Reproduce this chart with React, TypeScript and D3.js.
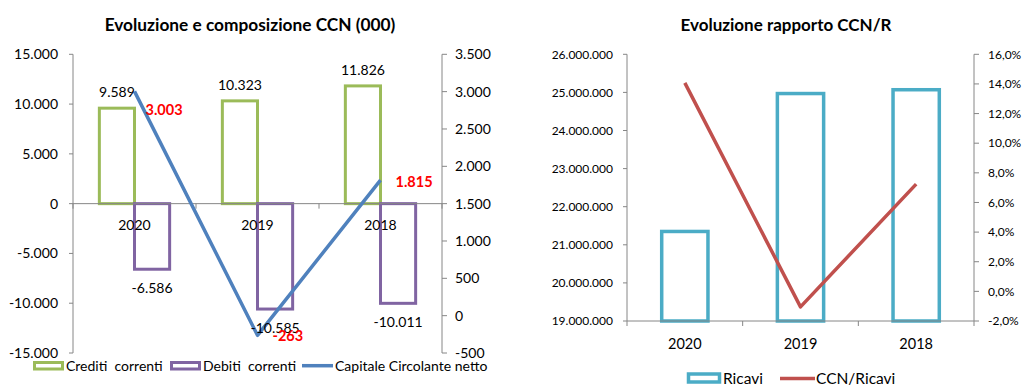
import React from "react";
import * as d3 from "d3";

// Categories and series
const years = ["2020", "2019", "2018"];
const creditiCorrenti = [9589, 10323, 11826];
const debitiCorrenti = [-6586, -10585, -10011];
const capitaleCircolanteNetto = [3003, -263, 1815];
const ricavi = [21350000, 24970000, 25070000];
const ccnSuRicavi = [0.1407, -0.0105, 0.0724];

// Axis ticks
const ccnLeftTicks = [15000, 10000, 5000, 0, -5000, -10000, -15000];
const ccnRightTicks = [3500, 3000, 2500, 2000, 1500, 1000, 500, 0, -500];
const ricaviTicks = [26000000, 25000000, 24000000, 23000000, 22000000, 21000000, 20000000, 19000000];
const ratioTicks = [0.16, 0.14, 0.12, 0.1, 0.08, 0.06, 0.04, 0.02, 0, -0.02];

const it = d3.formatLocale({
  decimal: ",",
  thousands: ".",
  grouping: [3],
  currency: ["€", ""],
  minus: "-",
});
const fmtInt = it.format(",d");
const fmtPct = it.format(".1%");

const FONT = "Lato, 'Open Sans', sans-serif";
const GREEN = "#9BBB59";
const PURPLE = "#8064A2";
const BLUE = "#4F81BD";
const CYAN = "#4BACC6";
const RED = "#C0504D";
const AXIS = "#868686";
const LABEL_RED = "#FF0000";

// nudges for the red CCN labels (dx, dy) so they clear the line
const ccnLabelNudge = [
  [11, 19],
  [15, 1],
  [15, 2],
];

function LeftChart() {
  const left = 73;
  const right = 442;
  const top = 54.3;
  const bottom = 353;
  const x = d3.scaleBand().domain(years).range([left, right]).paddingInner(0).paddingOuter(0);
  const yL = d3.scaleLinear().domain([-15000, 15000]).range([bottom, top]);
  const yR = d3.scaleLinear().domain([-500, 3500]).range([bottom, top]);
  const barW = x.bandwidth() / 3.5;
  const zero = yL(0);
  const center = (c: string) => (x(c) as number) + x.bandwidth() / 2;
  const line = d3
    .line<number>()
    .x((_, i) => center(years[i]))
    .y((d) => yR(d));

  return (
    <g fontFamily={FONT}>
      <text x={250} y={31} textAnchor="middle" fontSize={17.3} fontWeight="bold" fill="#000">
        Evoluzione e composizione CCN (000)
      </text>

      {/* left axis */}
      <line x1={left} x2={left} y1={top} y2={bottom} stroke={AXIS} strokeWidth={1} />
      {ccnLeftTicks.map((t) => (
        <g key={"lt" + t}>
          <line x1={left - 4} x2={left} y1={yL(t)} y2={yL(t)} stroke={AXIS} />
          <text x={58} y={yL(t)} dy="0.35em" textAnchor="end" fontSize={14} fill="#000">
            {fmtInt(t)}
          </text>
        </g>
      ))}

      {/* right axis */}
      <line x1={right} x2={right} y1={top} y2={bottom} stroke={AXIS} strokeWidth={1} />
      {ccnRightTicks.map((t) => (
        <g key={"rt" + t}>
          <line x1={right} x2={right + 5} y1={yR(t)} y2={yR(t)} stroke={AXIS} />
          <text x={455} y={yR(t)} dy="0.35em" textAnchor="start" fontSize={14} fill="#000">
            {fmtInt(t)}
          </text>
        </g>
      ))}

      {/* bars */}
      {years.map((c, i) => {
        const cx = center(c);
        const gTop = yL(creditiCorrenti[i]);
        const pBot = yL(debitiCorrenti[i]);
        return (
          <g key={"bars" + c}>
            <rect x={cx - barW} y={gTop} width={barW} height={zero - gTop} fill="none" stroke={GREEN} strokeWidth={3} />
            <rect x={cx} y={zero} width={barW} height={pBot - zero} fill="none" stroke={PURPLE} strokeWidth={3} />
          </g>
        );
      })}

      {/* category axis at zero */}
      <line x1={left} x2={right} y1={zero} y2={zero} stroke={AXIS} strokeWidth={1} />
      {[0, 1, 2, 3].map((k) => {
        const xx = left + k * x.bandwidth();
        return <line key={"ct" + k} x1={xx} x2={xx} y1={zero} y2={zero + 5} stroke={AXIS} />;
      })}
      {years.map((c) => (
        <text key={"cl" + c} x={center(c)} y={230} textAnchor="middle" fontSize={14} fill="#000">
          {c}
        </text>
      ))}

      {/* line */}
      <path d={line(capitaleCircolanteNetto) || ""} fill="none" stroke={BLUE} strokeWidth={3.5} strokeLinejoin="round" />

      {/* bar labels */}
      {years.map((c, i) => {
        const cx = center(c);
        return (
          <g key={"bl" + c} fontSize={14} fill="#000">
            <text x={cx - barW / 2} y={yL(creditiCorrenti[i]) - 11} textAnchor="middle">
              {fmtInt(creditiCorrenti[i])}
            </text>
            <text x={cx + barW / 2} y={yL(debitiCorrenti[i]) + 24} textAnchor="middle">
              {fmtInt(debitiCorrenti[i])}
            </text>
          </g>
        );
      })}
      {years.map((c, i) => (
        <text
          key={"ll" + c}
          x={center(c) + ccnLabelNudge[i][0]}
          y={yR(capitaleCircolanteNetto[i]) + ccnLabelNudge[i][1]}
          dy="0.35em"
          fontSize={14.5}
          fontWeight="bold"
          fill={LABEL_RED}
        >
          {fmtInt(capitaleCircolanteNetto[i])}
        </text>
      ))}

      {/* legend */}
      <g fontSize={14} fill="#000">
        <rect x={34.5} y={362.5} width={28} height={6.5} fill="none" stroke={GREEN} strokeWidth={3} />
        <text x={66} y={365.7} dy="0.35em" xmlSpace="preserve">Crediti  correnti</text>
        <rect x={171.5} y={362.5} width={28} height={6.5} fill="none" stroke={PURPLE} strokeWidth={3} />
        <text x={203} y={365.7} dy="0.35em" xmlSpace="preserve">Debiti  correnti</text>
        <line x1={302} x2={333} y1={365.7} y2={365.7} stroke={BLUE} strokeWidth={3.5} />
        <text x={335} y={365.7} dy="0.35em">Capitale Circolante netto</text>
      </g>
    </g>
  );
}

function RightChart() {
  const left = 627;
  const right = 974;
  const top = 54.3;
  const bottom = 321;
  const x = d3.scaleBand().domain(years).range([left, right]).paddingInner(0).paddingOuter(0);
  const yL = d3.scaleLinear().domain([19000000, 26000000]).range([bottom, top]);
  const yR = d3.scaleLinear().domain([-0.02, 0.16]).range([bottom, top]);
  const barW = x.bandwidth() / 2.5;
  const center = (c: string) => (x(c) as number) + x.bandwidth() / 2;
  const line = d3
    .line<number>()
    .x((_, i) => center(years[i]))
    .y((d) => yR(d));

  return (
    <g fontFamily={FONT}>
      <text x={786} y={31} textAnchor="middle" fontSize={17} fontWeight="bold" fill="#000">
        Evoluzione rapporto CCN/R
      </text>

      <line x1={left} x2={left} y1={top} y2={bottom} stroke={AXIS} />
      {ricaviTicks.map((t) => (
        <g key={"rl" + t}>
          <line x1={left - 4} x2={left} y1={yL(t)} y2={yL(t)} stroke={AXIS} />
          <text x={613} y={yL(t)} dy="0.35em" textAnchor="end" fontSize={12} fill="#000">
            {fmtInt(t)}
          </text>
        </g>
      ))}

      <line x1={right} x2={right} y1={top} y2={bottom} stroke={AXIS} />
      {ratioTicks.map((t) => (
        <g key={"rr" + t}>
          <line x1={right} x2={right + 5} y1={yR(t)} y2={yR(t)} stroke={AXIS} />
          <text x={988} y={yR(t)} dy="0.35em" textAnchor="start" fontSize={12} fill="#000">
            {fmtPct(t)}
          </text>
        </g>
      ))}

      {years.map((c, i) => {
        const cx = center(c);
        const t = yL(ricavi[i]);
        return (
          <rect key={"rb" + c} x={cx - barW / 2} y={t} width={barW} height={bottom - t} fill="none" stroke={CYAN} strokeWidth={3.5} />
        );
      })}

      <line x1={left} x2={right} y1={bottom} y2={bottom} stroke={AXIS} />
      {[0, 1, 2, 3].map((k) => {
        const xx = left + k * x.bandwidth();
        return <line key={"rct" + k} x1={xx} x2={xx} y1={bottom} y2={bottom + 5} stroke={AXIS} />;
      })}
      {years.map((c) => (
        <text key={"rcl" + c} x={center(c)} y={344.3} dy="0.35em" textAnchor="middle" fontSize={14.5} fill="#000">
          {c}
        </text>
      ))}

      <path d={line(ccnSuRicavi) || ""} fill="none" stroke={RED} strokeWidth={3.5} strokeLinejoin="round" />

      <g fontSize={15.5} fill="#000">
        <rect x={688.5} y={374} width={31} height={8} fill="none" stroke={CYAN} strokeWidth={3.5} />
        <text x={723} y={384}>Ricavi</text>
        <line x1={780} x2={815} y1={378.5} y2={378.5} stroke={RED} strokeWidth={3.5} />
        <text x={816} y={384}>CCN/Ricavi</text>
      </g>
    </g>
  );
}

export default function App() {
  return (
    <svg
      width={1022}
      height={385}
      style={{ position: "absolute", left: 0, top: 0, background: "#fff" }}
    >
      <rect width={1022} height={385} fill="#fff" />
      <LeftChart />
      <RightChart />
    </svg>
  );
}
